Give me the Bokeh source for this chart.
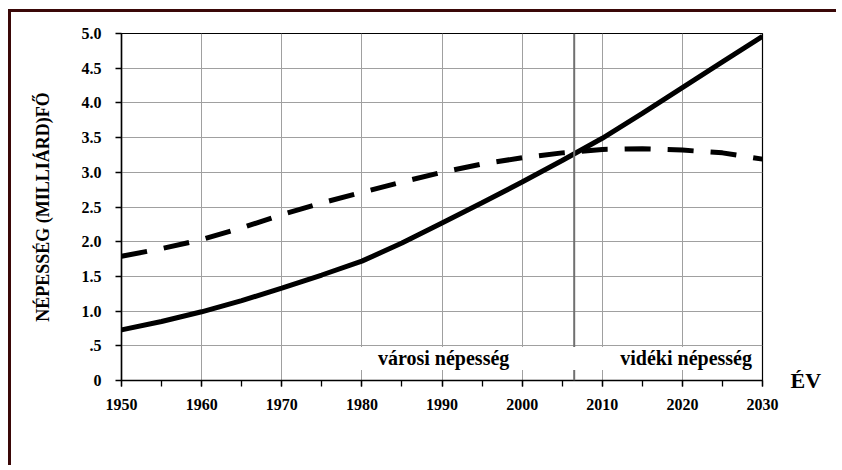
from bokeh.plotting import figure
from bokeh.models import (Range1d, SingleIntervalTicker, FixedTicker, Span,
                          Legend, LegendItem, LinearAxis)
from bokeh.embed import file_html
from bokeh.resources import INLINE

# ---- data ----
years = [1950, 1955, 1960, 1965, 1970, 1975, 1980, 1985, 1990, 1995,
         2000, 2005, 2010, 2015, 2020, 2025, 2030]
urban = [0.73, 0.85, 0.99, 1.15, 1.33, 1.52, 1.72, 1.98, 2.27, 2.56,
         2.86, 3.17, 3.49, 3.85, 4.22, 4.59, 4.96]
rural = [1.79, 1.90, 2.03, 2.20, 2.39, 2.56, 2.71, 2.86, 3.00, 3.12,
         3.21, 3.28, 3.33, 3.34, 3.32, 3.28, 3.19]
crossover_year = 2006.5
ytick_vals = [0, 0.5, 1.0, 1.5, 2.0, 2.5, 3.0, 3.5, 4.0, 4.5, 5.0]
ytick_labels = ["0", ".5", "1.0", "1.5", "2.0", "2.5", "3.0", "3.5", "4.0", "4.5", "5.0"]
series_names = ["városi népesség", "vidéki népesség"]
y_title = "NÉPESSÉG (MILLIÁRD)FŐ"
x_title = "ÉV"

FONT = "Liberation Serif"

p = figure(width=828, height=456, output_backend="svg", toolbar_location=None,
           x_range=Range1d(1950, 2030), y_range=Range1d(0, 5),
           min_border_left=110, min_border_right=77, min_border_top=21,
           min_border_bottom=88)
p.styles = {"border-top": "3px solid #3a0808", "border-left": "3px solid #3a0808",
            "margin-left": "8px", "margin-top": "9px"}
p.background_fill_color = "white"
p.border_fill_color = "white"
p.outline_line_color = "black"
p.outline_line_width = 1.2

xax = p.xaxis[0]
yax = p.yaxis[0]

# axes
xax.ticker = SingleIntervalTicker(interval=10, num_minor_ticks=2)
yax.ticker = FixedTicker(ticks=ytick_vals)
yax.major_label_overrides = {v: s for v, s in zip(ytick_vals, ytick_labels)}
for ax in (xax, yax):
    ax.axis_line_color = "black"
    ax.axis_line_width = 1.5
    ax.major_tick_line_color = "black"
    ax.major_tick_line_width = 1.3
    ax.major_tick_in = 0
    ax.major_tick_out = 6
    ax.minor_tick_in = 0
    ax.minor_tick_out = 6
    ax.minor_tick_line_color = "black"
    ax.minor_tick_line_width = 1.3
    ax.major_label_text_font = FONT
    ax.major_label_text_font_style = "bold"
    ax.major_label_text_font_size = "16px"
    ax.major_label_text_color = "black"
yax.minor_tick_line_color = None
xax.major_label_standoff = 12
yax.major_label_standoff = 14

yax.axis_label = y_title
yax.axis_label_text_font = FONT
yax.axis_label_text_font_style = "bold"
yax.axis_label_text_font_size = "18px"
yax.axis_label_text_color = "black"
yax.axis_label_standoff = 26

# "ÉV" shown as the only label of a bare axis at the right, next to the x axis end
p.extra_y_ranges = {"ev": Range1d(0, 5)}
ev_axis = LinearAxis(y_range_name="ev", ticker=FixedTicker(ticks=[0]),
                     major_label_overrides={0: x_title},
                     axis_line_color=None, major_tick_line_color=None,
                     minor_tick_line_color=None, major_tick_out=0,
                     major_label_standoff=28,
                     major_label_text_font=FONT, major_label_text_font_style="bold",
                     major_label_text_font_size="22px", major_label_text_color="black")
p.add_layout(ev_axis, "right")

p.xgrid.grid_line_color = "#a0a0a0"
p.ygrid.grid_line_color = "#a0a0a0"
p.xgrid.grid_line_width = 1
p.ygrid.grid_line_width = 1

p.add_layout(Span(location=crossover_year, dimension="height",
                  line_color="#707070", line_width=2))

r1 = p.line(years, urban, line_color="black", line_width=5)
r2 = p.line(years, rural, line_color="black", line_width=5, line_dash="26 17")

# legend-only glyph styles
lg1 = p.line([], [], line_color="black", line_width=7)
lg2 = p.line([], [], line_color="black", line_width=7, line_dash="19 13")

legend = Legend(items=[LegendItem(label=series_names[0], renderers=[lg1]),
                       LegendItem(label=series_names[1], renderers=[lg2])],
                location="bottom_right", orientation="horizontal",
                glyph_width=62, glyph_height=20, label_height=20,
                label_standoff=9, spacing=40, padding=6, margin=10,
                border_line_color=None, background_fill_color="white",
                background_fill_alpha=1.0,
                label_text_font=FONT, label_text_font_style="bold",
                label_text_font_size="20px", label_text_color="black")
p.add_layout(legend, "center")

open("out.html", "w").write(file_html(p, INLINE))
